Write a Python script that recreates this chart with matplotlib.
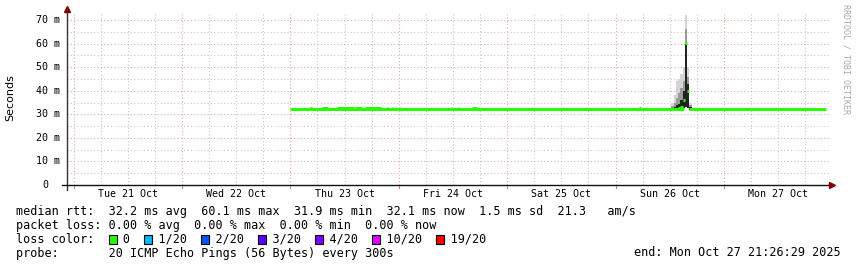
import matplotlib
matplotlib.use("Agg")
import matplotlib.pyplot as plt
from matplotlib.patches import Rectangle

# ---- data ----
day_labels = ["Tue 21 Oct", "Wed 22 Oct", "Thu 23 Oct", "Fri 24 Oct",
              "Sat 25 Oct", "Sun 26 Oct", "Mon 27 Oct"]   # days after Tue 21 00:00
y_ticks = [0, 10, 20, 30, 40, 50, 60, 70]                 # ms

# median rtt baseline (days after Tue 21 00:00, ms)
base_start = [2.00, 5.695]
base_end = [5.632, 6.94]
base_level = 32.1

# short bumps in the median line
bump_start = [2.185, 2.29, 2.43, 2.60, 2.69, 2.895, 2.935, 3.005, 3.485, 3.545, 3.68, 5.22]
bump_end = [2.195, 2.35, 2.59, 2.66, 2.84, 2.905, 2.945, 3.015, 3.495, 3.555, 3.72, 5.23]
bump_level = 32.5

# the spike on Sun 26 (hours after Sun 26 00:00)
spike_hours = [12.6, 13.1, 13.6, 14.1, 14.6, 15.1, 15.6, 16.1, 16.6]
spike_median = [32.2, 32.2, 32.3, 32.5, 33.0, 36.0, 60.1, 40.0, 32.4]
spike_low = [31.9, 31.9, 32.0, 32.0, 32.0, 32.5, 33.0, 32.5, 32.0]
spike_high = [35.0, 38.0, 44.0, 45.0, 47.0, 50.0, 72.0, 50.0, 35.0]
spike_mid = [33.5, 35.0, 37.0, 39.0, 41.0, 44.0, 66.0, 46.0, 34.0]
spike_core = [32.8, 33.2, 33.8, 34.5, 36.0, 40.0, 60.0, 43.0, 33.0]

rtt_avg, rtt_max, rtt_min, rtt_now, rtt_sd, rtt_am = 32.2, 60.1, 31.9, 32.1, 1.5, 21.3
loss_avg, loss_max, loss_min, loss_now = 0.00, 0.00, 0.00, 0.00
loss_labels = ["0", "1/20", "2/20", "3/20", "4/20", "10/20", "19/20"]
loss_colors = ["#26ff00", "#00b8ff", "#0059ff", "#5e00ff", "#7e00ff", "#dd00ff", "#ff0000"]

W, H = 857, 267
MONO = "DejaVu Sans Mono"

fig = plt.figure(figsize=(W / 100, H / 100), dpi=100)
ax = fig.add_axes([67 / W, 1 - 185 / H, 762 / W, 172 / H])
ax.set_xlim(-0.061, 6.969)
ax.set_ylim(0, 73)
for s in ax.spines.values():
    s.set_visible(False)
ax.set_xticks([])
ax.set_yticks([])

# grid
grid_red = "#e8a8a8"
grid_gray = "#c8c8c8"
for q in range(0, 28):
    d = q / 4
    ax.axvline(d, color=grid_red if q % 4 == 0 else grid_gray,
               lw=0.8, ls=(0, (1, 2)), zorder=0)
for v in range(5, 75, 5):
    ax.axhline(v, color=grid_red if v % 10 == 0 else grid_gray,
               lw=0.8, ls=(0, (1, 2)), zorder=0)

# smoke
xs = [5 + h / 24 for h in spike_hours]
bw = 0.5 / 24
ax.bar(xs, [h - l for h, l in zip(spike_high, spike_low)], bottom=spike_low,
       width=bw, color="#d4d4d4", zorder=2)
ax.bar(xs, [m - l for m, l in zip(spike_mid, spike_low)], bottom=spike_low,
       width=bw, color="#9a9a9a", zorder=2)
ax.bar(xs, [c - l for c, l in zip(spike_core, spike_low)], bottom=spike_low,
       width=bw, color="#222222", zorder=2)

# median
ax.hlines([base_level] * len(base_start), base_start, base_end,
          colors="#26ff00", lw=2.2, zorder=3)
ax.hlines([bump_level] * len(bump_start), bump_start, bump_end,
          colors="#26ff00", lw=2.2, zorder=3)
ax.hlines(spike_median, [x - bw / 2 for x in xs], [x + bw / 2 for x in xs],
          colors="#26ff00", lw=2.2, zorder=3)

# axes lines with arrows
ax.plot([0, 0], [-0.03, 1.015], transform=ax.transAxes, color="#333333",
        lw=1, clip_on=False, zorder=5)
ax.plot([-0.007, 1.0], [0, 0], transform=ax.transAxes, color="#111111",
        lw=1, clip_on=False, zorder=5)
ax.plot([0], [1.025], marker="^", ms=4, color="#800000", transform=ax.transAxes,
        clip_on=False, zorder=6)
ax.plot([1.004], [0], marker=">", ms=4, color="#800000", transform=ax.transAxes,
        clip_on=False, zorder=6)

# x ticks at midnight and day labels at noon
xt = ax.get_xaxis_transform()
for i, lab in enumerate(day_labels):
    ax.plot([i, i], [0, -0.018], transform=xt, color="#d08080", lw=0.8, clip_on=False)
    ax.text(i + 0.5, -0.052, lab, transform=xt, ha="center", va="center",
            family=MONO, fontsize=7.2)

# y labels
yt = ax.get_yaxis_transform()
for v in y_ticks:
    if v == 0:
        ax.text(-0.029, v, "0", transform=yt, ha="center", va="center",
                family=MONO, fontsize=7.2)
    else:
        ax.text(-0.009, v, f"{v} m", transform=yt, ha="right", va="center",
                family=MONO, fontsize=7.2)

fig.text(10 / W, 1 - 98 / H, "Seconds", rotation=90, ha="center", va="center",
         fontsize=8, family="DejaVu Sans")
fig.text(846 / W, 1 - 4 / H, "RRDTOOL / TOBI OETIKER", rotation=270,
         ha="center", va="top", fontsize=6, family=MONO, color="#aaaaaa")

# legend text
fs = 8.5
cw = 0.6021 * fs * 100 / 72
x0 = 16
line1 = (f"median rtt:  {rtt_avg:.1f} ms avg  {rtt_max:.1f} ms max  {rtt_min:.1f} ms min  "
         f"{rtt_now:.1f} ms now  {rtt_sd:.1f} ms sd  {rtt_am:.1f}   am/s")
line2 = (f"packet loss: {loss_avg:.2f} % avg  {loss_max:.2f} % max  "
         f"{loss_min:.2f} % min  {loss_now:.2f} % now")
line4 = "probe:       20 ICMP Echo Pings (56 Bytes) every 300s"
fig.text(x0 / W, 1 - 211 / H, line1, family=MONO, fontsize=fs, va="center")
fig.text(x0 / W, 1 - 225 / H, line2, family=MONO, fontsize=fs, va="center")
fig.text(x0 / W, 1 - 253 / H, line4, family=MONO, fontsize=fs, va="center")
fig.text(841 / W, 1 - 253 / H, "end: Mon Oct 27 21:26:29 2025", family=MONO,
         fontsize=fs, va="center", ha="right")

line3 = "loss color:  "
box_pos = []
for lab in loss_labels:
    box_pos.append(len(line3))
    line3 += "  " + lab + "  "
fig.text(x0 / W, 1 - 239 / H, line3.rstrip(), family=MONO, fontsize=fs, va="center")
for p, c in zip(box_pos, loss_colors):
    bx = x0 + p * cw + 0.5
    fig.add_artist(Rectangle((bx / W, 1 - 243.5 / H), 8 / W, 9 / H,
                             transform=fig.transFigure, facecolor=c,
                             edgecolor="black", lw=0.8))

fig.savefig("out.png", dpi=100)
